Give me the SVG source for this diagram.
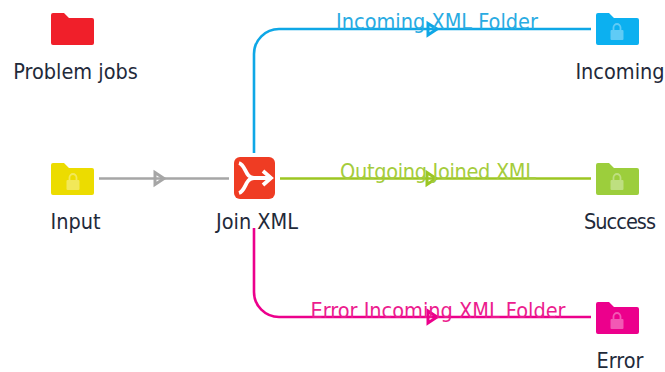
<svg xmlns="http://www.w3.org/2000/svg" width="665" height="372" viewBox="0 0 665 372">
<style>
text{font-family:"DejaVu Sans Condensed","DejaVu Sans",sans-serif;font-size:21.500px}
.n{fill:#1f2a3a;text-anchor:middle}
.l{text-anchor:middle}
.c{fill:none;stroke-width:2.6}
.a{fill:#fff;fill-opacity:0;stroke-width:3;stroke-linejoin:miter}
.lock{fill:#fff;fill-opacity:.35}
</style>
<defs>
<path id="folder" d="M51 15a2 2 0 0 1 2-2h11l5 5h23a2 2 0 0 1 2 2v23a2 2 0 0 1-2 2H53a2 2 0 0 1-2-2z"/>
<g id="lock"><rect x="-6.500" y="-4" width="13" height="10" rx="1" class="lock"/><path d="M-3.500-4v-2.500a3.500 3.500 0 0 1 7 0V-4" fill="none" stroke="#fff" stroke-opacity=".35" stroke-width="1.8"/></g>
</defs>
<g id="connectors">
<path class="c" stroke="#a6a6a6" d="M99 178.500H229"/>
<path class="a" stroke="#a6a6a6" d="M155 172.500L164 178.500L155 184.500Z"/>
<path class="c" stroke="#0ea7e6" d="M254 153V54a25 25 0 0 1 25-25H591"/>
<path class="a" stroke="#0ea7e6" d="M428 23.500L437 29L428 35Z"/>
<path class="c" stroke="#9cc622" d="M280 178.500H591"/>
<path class="a" stroke="#9cc622" d="M427 172.500L436 178.500L427 184.500Z"/>
<path class="c" stroke="#ec008c" d="M254 228V292a25 25 0 0 0 25 25H591"/>
<path class="a" stroke="#ec008c" d="M428 311L437 317L428 323Z"/>
</g>
<g id="edge-labels">
<text class="l" x="437" y="29" fill="#29abe2">Incoming XML Folder</text>
<text class="l" x="438" y="179" fill="#a5cc3c" textLength="196">Outgoing Joined XML</text>
<text class="l" x="438" y="318" fill="#ec1c8e">Error Incoming XML Folder</text>
</g>
<g id="problem-jobs"><use href="#folder" fill="#f01f2a"/><text class="n" x="75.500" y="79">Problem jobs</text></g>
<g id="input"><use href="#folder" y="150" fill="#ecdc00"/><use href="#lock" x="73" y="184"/><text class="n" x="75.500" y="229">Input</text></g>
<g id="join-xml">
<rect x="234" y="157" width="41" height="42" rx="6" fill="#ef3c23"/>
<path d="M239 163C246 165 245 178 254 178H270M239 193C246 191 245 178 254 178M263 171L271 178L263 185" fill="none" stroke="#fff" stroke-width="3.800"/>
<text class="n" x="257" y="229">Join XML</text>
</g>
<g id="incoming"><use href="#folder" x="545" fill="#0cb0f0"/><use href="#lock" x="617" y="34"/><text class="n" x="620" y="79">Incoming</text></g>
<g id="success"><use href="#folder" x="545" y="150" fill="#9cce3c"/><use href="#lock" x="617" y="184"/><text class="n" x="620" y="229" textLength="72">Success</text></g>
<g id="error"><use href="#folder" x="545" y="289" fill="#ec008c"/><use href="#lock" x="617" y="323"/><text class="n" x="620" y="368">Error</text></g>
</svg>
